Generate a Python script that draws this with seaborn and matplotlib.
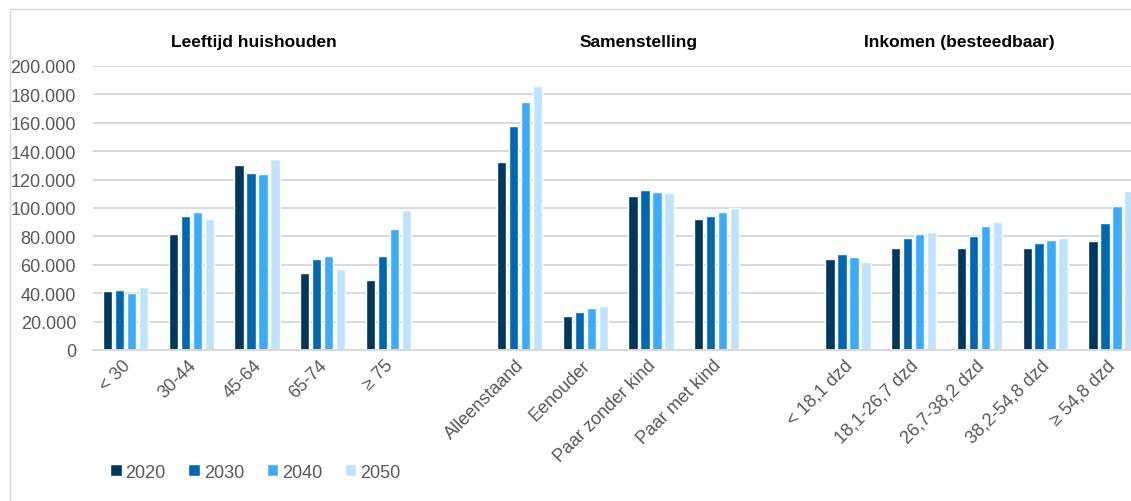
import pandas as pd
import matplotlib.pyplot as plt
import matplotlib.patches as mpatches
import matplotlib.ticker as mticker
import matplotlib.transforms as mtransforms
import seaborn as sns

# data
categories = ['< 30', '30-44', '45-64', '65-74', '≥ 75',
              'Alleenstaand', 'Eenouder', 'Paar zonder kind', 'Paar met kind',
              '< 18,1 dzd', '18,1-26,7 dzd', '26,7-38,2 dzd', '38,2-54,8 dzd', '≥ 54,8 dzd']
years = ['2020', '2030', '2040', '2050']
v2020 = [41400, 82000, 130400, 54100, 49400,
         132500, 23700, 108600, 92100,
         63900, 71900, 71900, 72100, 76900]
v2030 = [42500, 94500, 124800, 64400, 66000,
         157900, 27000, 112600, 94200,
         67700, 78700, 80100, 75700, 89500]
v2040 = [40200, 97100, 123900, 66000, 85300,
         174900, 29400, 111200, 97500,
         65300, 81800, 87400, 77300, 101500]
v2050 = [44200, 92400, 134700, 57300, 98900,
         185700, 30800, 110500, 99900,
         62000, 83200, 90200, 79000, 112100]
group_titles = ['Leeftijd huishouden', 'Samenstelling', 'Inkomen (besteedbaar)']

# empty slots between the groups
order = categories[:5] + [' '] + categories[5:9] + ['  '] + categories[9:]

df = pd.DataFrame({
    'cat': categories * 4,
    'year': [y for y in years for _ in categories],
    'value': v2020 + v2030 + v2040 + v2050,
})

colors = ['#00375C', '#0068B3', '#3AABFF', '#BEE3FF']

sns.set_style('white')
plt.rcParams['font.family'] = ['Liberation Sans', 'DejaVu Sans']

fig = plt.figure(figsize=(11.31, 5.02), dpi=100)
ax = fig.add_axes([92.7 / 1131, 151 / 502, 1051 / 1131, 284 / 502])

sns.barplot(data=df, x='cat', y='value', hue='year', order=order,
            hue_order=years, palette=colors, width=0.73, gap=0.22,
            ax=ax, saturation=1)

ax.set_ylim(0, 200000)
ax.set_xlim(-0.5, len(order) - 0.5)
ax.yaxis.set_major_locator(mticker.MultipleLocator(20000))
ax.yaxis.set_major_formatter(
    mticker.FuncFormatter(lambda v, p: f'{int(v):,}'.replace(',', '.')))
ax.grid(axis='y', color='#D9D9D9', linewidth=1.4)
ax.set_axisbelow(True)
for s in ['top', 'right', 'left']:
    ax.spines[s].set_visible(False)
ax.spines['bottom'].set_color('#D9D9D9')
ax.spines['bottom'].set_linewidth(1.4)
ax.set_xlabel('')
ax.set_ylabel('')
ax.tick_params(axis='y', length=0, pad=12, labelsize=13, labelcolor='#595959')
ax.tick_params(axis='x', length=0, pad=9, labelsize=13, labelcolor='#595959')
shift = mtransforms.ScaledTranslation(2 / 100, 0, fig.dpi_scale_trans)
for lbl in ax.get_xticklabels():
    lbl.set_rotation(45)
    lbl.set_ha('right')
    lbl.set_va('center')
    lbl.set_rotation_mode('anchor')
    lbl.set_transform(lbl.get_transform() + shift)

# group titles
for txt, xp in zip(group_titles, [254, 639, 959]):
    fig.text(xp / 1131, 1 - 43 / 502, txt, ha='center', va='center',
             fontsize=12.5, fontweight='bold', color='black')

# legend
handles, labels = ax.get_legend_handles_labels()
ax.legend_.remove()
fig.legend(handles, labels, loc='center left',
           bbox_to_anchor=(94 / 1131, 1 - 473 / 502), ncol=4, frameon=False,
           fontsize=13, handlelength=0.65, handleheight=0.65,
           handletextpad=0.2, columnspacing=1.25, labelcolor='#595959')

# chart frame
fig.patches.append(mpatches.Rectangle((10 / 1131, -0.1), 1.2, 1.1 - 10 / 502,
                                      transform=fig.transFigure, fill=False,
                                      edgecolor='#D9D9D9', linewidth=1))

fig.savefig('out.png', dpi=100)
